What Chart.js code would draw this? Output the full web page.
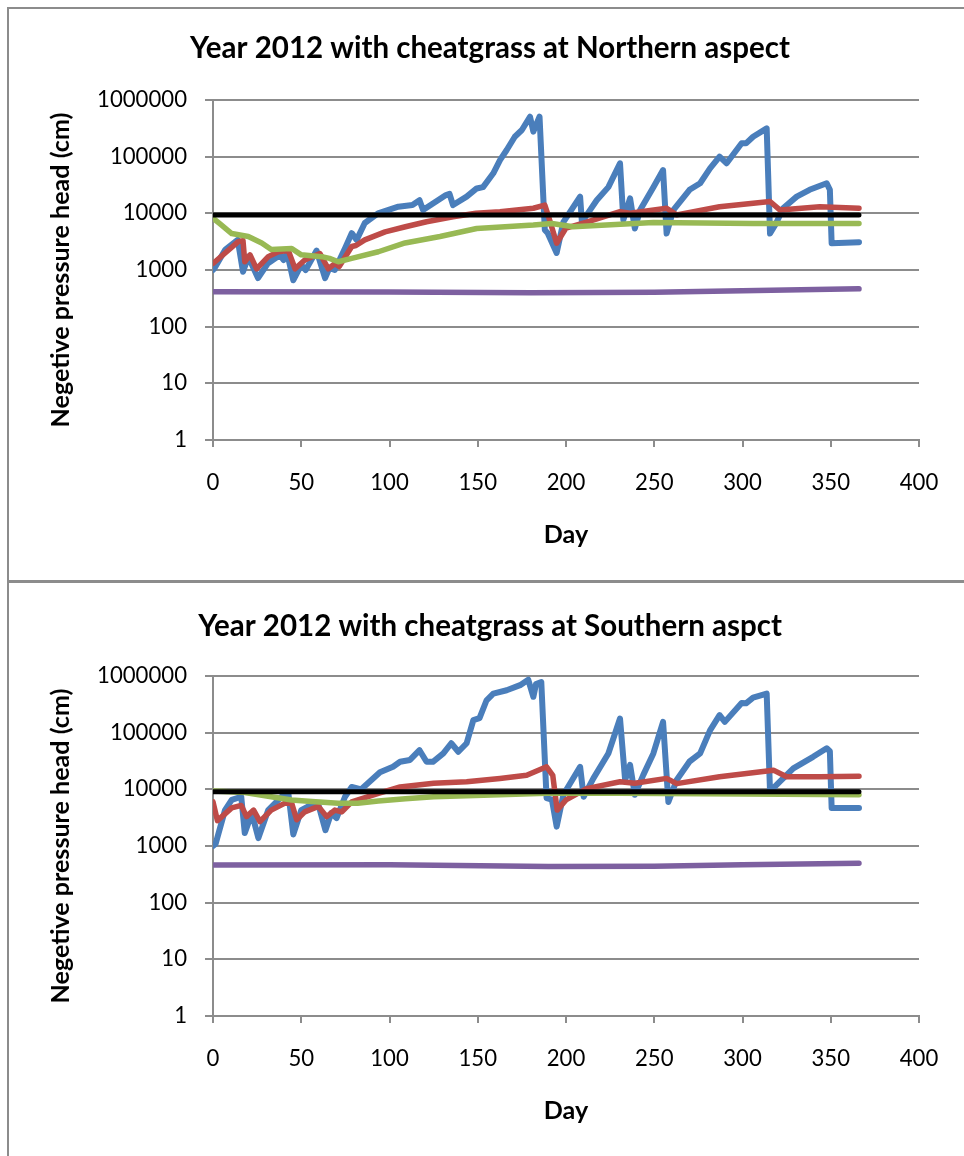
<!DOCTYPE html>
<html>
<head>
<meta charset="utf-8">
<script src="https://cdn.jsdelivr.net/npm/chart.js@4.4.0/dist/chart.umd.min.js"></script>
<style>
html, body { margin: 0; padding: 0; background: #fff; overflow: hidden; width: 964px; height: 1156px; }
.panel { position: absolute; left: 7px; width: 1000px; border: 2px solid #8c8c8c; box-sizing: border-box; }
#p1 { top: 7px; height: 576px; }
#p2 { top: 580px; height: 620px; }
canvas { position: absolute; left: 8px; }
</style>
</head>
<body>
<div class="panel" id="p1"></div>
<div class="panel" id="p2"></div>
<canvas id="north" width="964" height="572" style="top:8px"></canvas>
<canvas id="south" width="964" height="575" style="top:581px"></canvas>
<script>
// values: [day, negative pressure head (cm)]
const northBlue = [[0,1000],[1,1100],[7,2300],[14,3400],[17,930],[20,1720],[25.5,720],[31,1300],[38,1840],[40,1500],[42,2000],[45.5,660],[50,1230],[52.5,1000],[58.7,2200],[63.5,720],[66,1090],[69,1000],[75,2500],[78.6,4470],[81.4,3400],[86,6760],[93.5,10000],[105,13100],[113,14000],[117,17000],[119,11400],[132,21000],[134,22000],[136,14000],[143.7,19700],[149.4,27500],[153,29000],[158.8,50800],[162.6,87000],[166.4,131000],[171,225000],[175,295000],[179.6,507000],[181.5,276000],[185,507000],[188,5100],[189.6,4500],[194.7,2000],[198.5,7000],[208,19700],[209,7000],[213.6,11400],[217.4,17000],[224,29000],[230.6,76500],[232.5,7700],[236.3,18400],[239,5400],[242,11400],[249.5,29000],[255,58000],[257,4400],[260.8,11400],[270,26000],[276,34000],[281.6,62000],[287,100000],[291,76500],[299.5,172000],[302,172000],[306,225000],[313.7,316000],[315.6,4400],[319,6600],[323,12300],[330.7,19700],[338,26000],[347.7,34000],[349.5,26000],[350.5,2970],[366,3100]];
const northRed = [[0,1300],[14.3,3160],[17,3300],[18,1400],[21,1850],[24.7,1050],[31.3,1720],[37,2100],[42.7,2200],[46.5,1050],[52,1500],[60.6,1950],[65.3,1050],[69,1300],[71.5,1150],[78.6,2600],[81,2700],[86,3400],[97.5,4700],[109,5800],[121,7100],[136,8700],[149,10000],[162.6,10700],[181.5,12300],[188,14000],[190,9000],[194.7,2970],[200,5500],[211.7,7000],[230.6,10700],[236.3,10000],[257,12300],[262.7,9400],[287,13100],[315.6,16200],[321.3,11400],[343.8,13100],[366,12300]];
const northGreen = [[0,8200],[4,6500],[10.6,4400],[20,3900],[27.6,3000],[33,2300],[44.6,2400],[50,1850],[61.6,1720],[66,1600],[71,1400],[78.6,1600],[93.7,2100],[108.8,3000],[128.6,3900],[149.4,5400],[181.5,6200],[192,6600],[204,5800],[249.5,6900],[306,6600],[366,6600]];
const northPurple = [[0,415],[100,410],[180,395],[250,405],[300,430],[366,465]];
const northBlack = [[0,9300],[366,9300]];

const southBlue = [[0,1000],[1.5,1100],[6.8,4300],[10.6,6500],[16,7400],[18,1700],[22,3800],[25.7,1380],[31.3,4300],[38.9,7400],[42.7,8500],[45.5,1600],[50,4300],[54,5000],[57.8,5700],[60,5000],[63.7,1900],[67,3800],[70,3100],[74.8,7400],[78.6,11000],[84,10000],[94.6,20000],[102,25000],[106,30600],[111.6,33000],[117,49000],[121,30600],[124.6,30600],[130.5,43000],[135,65000],[139,46000],[143.7,65000],[147.5,166000],[151,180000],[155,373000],[158.8,490000],[166.4,560000],[174,690000],[178.6,860000],[181.5,430000],[183,720000],[186,780000],[189,7000],[192,6600],[194.7,2200],[198.5,8000],[208,25000],[210,7400],[215.5,15600],[224,43000],[230.6,178000],[233.5,14600],[236.3,27000],[239,8000],[243.8,18000],[249.5,43000],[255,155000],[258,6000],[262.7,14600],[270,31000],[276,43000],[281.6,110000],[287,204000],[290,155000],[299.5,335000],[302,330000],[306,415000],[313.7,490000],[315.6,9200],[321,13600],[328.8,23500],[340,37500],[347.7,53000],[349.5,47000],[350.5,4700],[366,4700]];
const southRed = [[0,6000],[2.5,2800],[10.6,4700],[16,5200],[19,3300],[23,4300],[26.6,2700],[33,4300],[40.8,5700],[44.6,5700],[47.4,2900],[52,4000],[59.7,5000],[64.4,3300],[69,4300],[73,4000],[78.6,6000],[93.7,8500],[106,11000],[125,12800],[143.7,13600],[162.6,15600],[177.7,17700],[189,25000],[192.5,17700],[195,4300],[200,6500],[211.7,10300],[230.6,13600],[239,12800],[257,15600],[262.7,12600],[287,16700],[317.5,21800],[325,16700],[343.8,16700],[366,17000]];
const southGreen = [[0,9300],[18,8800],[33,7400],[44.6,6500],[56,6100],[71,5700],[82,5700],[93.7,6200],[109,6800],[125,7400],[162.6,8000],[189,8500],[230,8500],[300,8300],[366,8000]];
const southPurple = [[0,460],[100,465],[190,435],[250,440],[300,465],[366,495]];
const southBlack = [[0,9100],[366,9100]];

const yTicks = [1, 10, 100, 1000, 10000, 100000, 1000000];
const xMin = 0, xMax = 400, xStep = 50;
const yTitle = 'Negetive pressure head (cm)';
const xTitle = 'Day';

const FONT = 'Lato, "Open Sans", sans-serif';
const GRID = '#8c8c8c';

// pick a font size so a string gets the width it has in the picture
function fitSize(text, weight, width) {
  const c = document.createElement('canvas').getContext('2d');
  c.font = `${weight} 100px ${FONT}`;
  return 100 * width / c.measureText(text).width;
}
const titleSize = fitSize('Year 2012 with cheatgrass at Northern aspect', 'bold', 600);
const axisTitleSize = fitSize(yTitle, 'bold', 315);
const tickSize = fitSize('1000000', 'normal', 90);

function line(pts, color, order, w) {
  return {
    data: pts.map(([x, y]) => ({ x, y })),
    borderColor: color, backgroundColor: color,
    borderWidth: w || 5.5, pointRadius: 0, tension: 0, order,
    borderCapStyle: 'round', borderJoinStyle: 'round'
  };
}

function buildChart(id, title, s, box) {
  const tl = titleSize * 1.2, al = axisTitleSize * 1.2;
  return new Chart(document.getElementById(id), {
    type: 'line',
    data: {
      datasets: [
        line(s.blue, '#4A7EBB', 4, 6),
        line(s.red, '#BE4B48', 3),
        line(s.green, '#98B954', 2),
        line(s.purple, '#7D60A0', 1),
        line(s.black, '#000000', 0, 5)
      ]
    },
    options: {
      responsive: false,
      animation: false,
      layout: { padding: 0 },
      plugins: {
        legend: { display: false },
        tooltip: { enabled: false },
        title: {
          display: true, text: title, color: '#000',
          font: { family: FONT, size: titleSize, weight: 'bold' },
          padding: { top: box.titleY - tl / 2, bottom: box.top - box.titleY - tl / 2 }
        }
      },
      scales: {
        x: {
          type: 'linear', min: xMin, max: xMax,
          afterFit(scale) { scale.height = 140; },
          ticks: { stepSize: xStep, color: '#000', padding: 23, maxRotation: 0,
                   font: { family: FONT, size: tickSize } },
          grid: { drawOnChartArea: false, drawTicks: true, tickLength: 7, color: GRID, lineWidth: 2 },
          border: { display: true, color: GRID, width: 2 },
          title: { display: true, text: xTitle, color: '#000',
                   font: { family: FONT, size: axisTitleSize, weight: 'bold' },
                   padding: { top: 0, bottom: 45 - al / 2 } }
        },
        y: {
          type: 'logarithmic', min: yTicks[0], max: yTicks[yTicks.length - 1],
          afterFit(scale) { scale.width = 205; },
          afterBuildTicks(scale) { scale.ticks = yTicks.map(v => ({ value: v })); },
          ticks: { color: '#000', padding: 18, font: { family: FONT, size: tickSize },
                   callback: v => String(v) },
          grid: { color: GRID, lineWidth: 2, tickLength: 8 },
          border: { display: true, color: GRID, width: 2 },
          title: { display: true, text: yTitle, color: '#000',
                   font: { family: FONT, size: axisTitleSize, weight: 'bold' },
                   padding: { top: 53 - al / 2, bottom: 0 } }
        },
        // empty right-hand strip so the title stays centred on the whole frame
        spacer: {
          type: 'linear', position: 'right', display: true,
          afterFit(scale) { scale.width = 53; },
          ticks: { display: false }, grid: { display: false }, border: { display: false }
        }
      }
    }
  });
}

buildChart('north', 'Year 2012 with cheatgrass at Northern aspect',
  { blue: northBlue, red: northRed, green: northGreen, purple: northPurple, black: northBlack },
  { titleY: 40, top: 92 });
buildChart('south', 'Year 2012 with cheatgrass at Southern aspct',
  { blue: southBlue, red: southRed, green: southGreen, purple: southPurple, black: southBlack },
  { titleY: 45, top: 95 });
</script>
</body>
</html>
